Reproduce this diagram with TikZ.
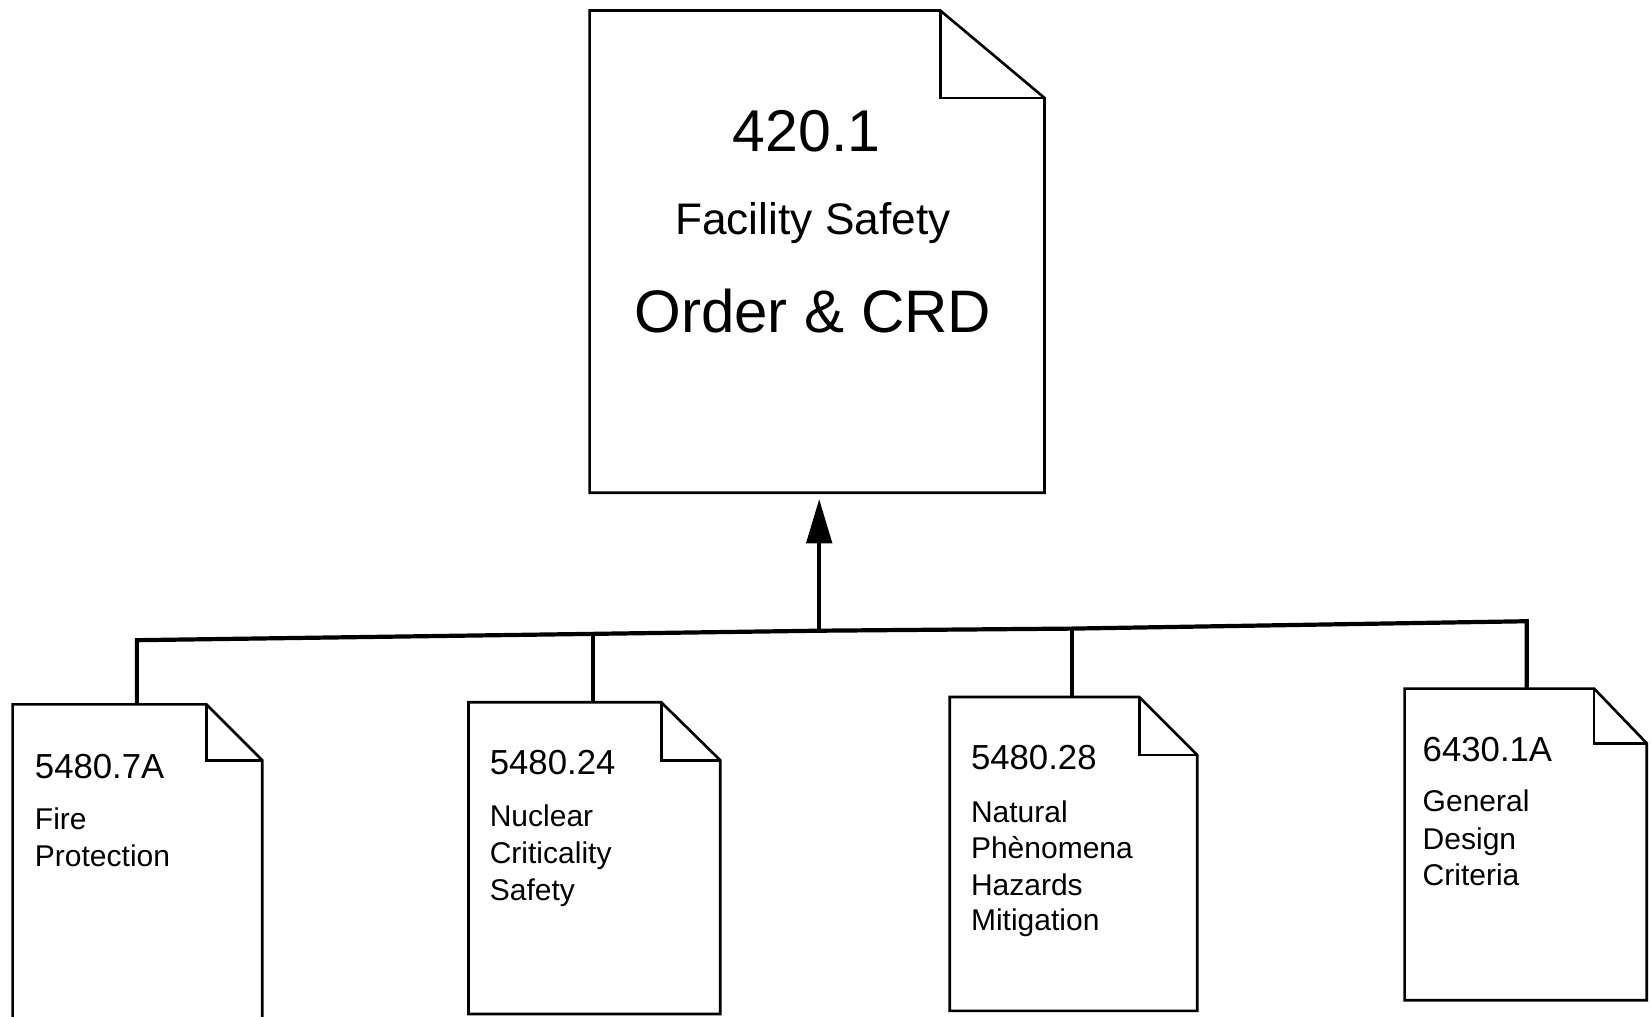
\documentclass[tikz,border=0pt]{standalone}
\usepackage{fontspec}
\setmainfont{Liberation Sans}
\usetikzlibrary{arrows.meta,calc}
\newcommand\foldoc[3]{%
  \draw[outline] (#1.south west) -- (#1.north west) -- ($(#1.north east)+(-#2,0)$) -- ($(#1.north east)+(0,#3)$) -- (#1.south east) -- cycle;
  \draw[outline] ($(#1.north east)+(-#2,0)$) -- ($(#1.north east)+(-#2,#3)$) -- ($(#1.north east)+(0,#3)$);
}
\begin{document}
\begin{tikzpicture}[x=1pt,y=-1pt,
  docbox/.style={draw=none,rectangle,inner sep=0pt,outer sep=0pt},
  outline/.style={line width=2.5pt,line join=miter},
  bus/.style={line width=4pt,line join=miter},
  numtxt/.style={font=\fontsize{33}{33}\selectfont,anchor=base west,inner sep=0pt},
  ttl/.style={font=\fontsize{28.5}{35}\selectfont,anchor=base west,inner sep=0pt}
]
\useasboundingbox[fill=white] (0,0) rectangle (1568,965);

% main document
\node[docbox,minimum width=432pt,minimum height=458pt] (main) at (776,239) {};
\foldoc{main}{99}{83}
\node[anchor=base,inner sep=0pt,font=\fontsize{56}{56}\selectfont] (mnum) at (766,144) {420.1};
\node[anchor=base,inner sep=0pt,font=\fontsize{42}{42}\selectfont] (mtitle) at (772,223) {Facility Safety};
\node[anchor=base,inner sep=0pt,font=\fontsize{57}{57}\selectfont] (morder) at (772,316) {Order \& CRD};

% child documents
\node[docbox,minimum width=237pt,minimum height=306pt] (b1) at (130.5,822) {};
\foldoc{b1}{53}{53}
\node[docbox,minimum width=239pt,minimum height=296pt] (b2) at (564.5,815) {};
\foldoc{b2}{56}{55}
\node[docbox,minimum width=235pt,minimum height=298pt] (b3) at (1019.5,811) {};
\foldoc{b3}{55}{55}
\node[docbox,minimum width=230pt,minimum height=296pt] (b4) at (1449,802) {};
\foldoc{b4}{50}{52}

% texts of child documents
\node[numtxt] (n1) at (33,739) {5480.7A};
\node[ttl] (t1a) at (33,788) {Fire};
\node[ttl] (t1b) at (33,823) {Protection};

\node[numtxt] (n2) at (465,736) {5480.24};
\node[ttl] (t2a) at (465,785) {Nuclear};
\node[ttl] (t2b) at (465,820) {Criticality};
\node[ttl] (t2c) at (465,855) {Safety};

\node[numtxt] (n3) at (922,731) {5480.28};
\node[ttl] (t3a) at (922,781) {Natural};
\node[ttl] (t3b) at (922,815) {Phènomena};
\node[ttl] (t3c) at (922,850) {Hazards};
\node[ttl] (t3d) at (922,884) {Mitigation};

\node[numtxt] (n4) at (1351,723) {6430.1A};
\node[ttl] (t4a) at (1351,771) {General};
\node[ttl] (t4b) at (1351,807) {Design};
\node[ttl] (t4c) at (1351,841) {Criteria};

% connectors
\coordinate (c1) at (130,608);
\coordinate (c2) at (563,602);
\coordinate (j) at (778,599);
\coordinate (c3) at (1018,597);
\coordinate (c4) at (1450,590);
\draw[bus] (c1 |- b1.north) -- (c1) -- (c2) -- (j) -- (c3) -- (c4) -- (c4 |- b4.north);
\draw[bus] (c2) -- (c2 |- b2.north);
\draw[bus] (c3) -- (c3 |- b3.north);
\draw[bus,-{Triangle[length=42pt,width=24pt]},shorten >=6pt] (j) -- (j |- main.south);
\end{tikzpicture}
\end{document}
